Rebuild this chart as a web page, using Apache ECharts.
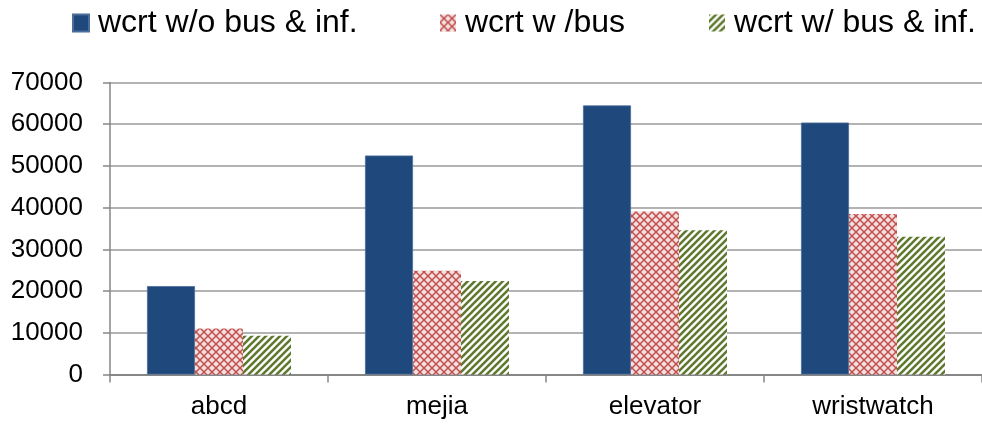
<!DOCTYPE html>
<html>
<head>
<meta charset="utf-8">
<style>
html,body{margin:0;padding:0;background:#fff;}
#chart{width:982px;height:430px;}
</style>
<script src="https://cdn.jsdelivr.net/npm/echarts@6/dist/echarts.min.js"></script>
</head>
<body>
<div id="chart"></div>
<script>
var categories = ['abcd', 'mejia', 'elevator', 'wristwatch'];
var seriesNames = ['wcrt w/o bus & inf.', 'wcrt w /bus', 'wcrt w/ bus & inf.'];
var woBusInf = [21200, 52500, 64500, 60400];
var wBus = [11000, 24900, 39100, 38500];
var wBusInf = [9300, 22400, 34600, 33000];
var yTicks = [0, 10000, 20000, 30000, 40000, 50000, 60000, 70000];

function crossPattern() {
  var s = 8;
  var c = document.createElement('canvas');
  c.width = s; c.height = s;
  var g = c.getContext('2d');
  g.fillStyle = '#ffffff';
  g.fillRect(0, 0, s, s);
  g.strokeStyle = '#c0504d';
  g.lineWidth = 1.5;
  g.beginPath();
  g.moveTo(-1, -1); g.lineTo(s + 1, s + 1);
  g.moveTo(-1, s + 1); g.lineTo(s + 1, -1);
  g.stroke();
  g.fillStyle = 'rgba(192,80,77,0.18)';
  g.fillRect(0, 0, s, s);
  return c;
}
function stripePattern() {
  var s = 7;
  var c = document.createElement('canvas');
  c.width = s; c.height = s;
  var g = c.getContext('2d');
  g.fillStyle = '#ffffff';
  g.fillRect(0, 0, s, s);
  g.strokeStyle = '#5f7a2f';
  g.lineWidth = 2.6;
  g.beginPath();
  g.moveTo(-1, s + 1); g.lineTo(s + 1, -1);
  g.moveTo(-1, 1); g.lineTo(1, -1);
  g.moveTo(s - 1, s + 1); g.lineTo(s + 1, s - 1);
  g.stroke();
  return c;
}

var chart = echarts.init(document.getElementById('chart'), null, {renderer: 'canvas'});
var fills = ['#1f497d', {image: crossPattern(), repeat: 'repeat'}, {image: stripePattern(), repeat: 'repeat'}];
var dataSets = [woBusInf, wBus, wBusInf];
var legendLefts = [72, 440, 709];
var fontFam = '"Liberation Sans", Arial, sans-serif';

var legends = seriesNames.map(function (n, i) {
  return {
    data: [n],
    left: legendLefts[i],
    top: 7,
    padding: 0,
    itemWidth: 16,
    itemHeight: 17,
    icon: 'rect',
    selectedMode: false,
    textStyle: {fontFamily: fontFam, fontSize: 32, color: '#000', padding: [0, 0, 0, 4]}
  };
});

chart.setOption({
  animation: false,
  backgroundColor: '#fff',
  legend: legends,
  grid: {left: 110, top: 82.5, width: 877, height: 292, containLabel: false},
  xAxis: {
    type: 'category',
    data: categories,
    boundaryGap: true,
    axisLine: {show: true, lineStyle: {color: '#868686', width: 2}},
    axisTick: {show: true, length: 8, inside: false, lineStyle: {color: '#868686', width: 1.5}},
    axisLabel: {fontFamily: fontFam, fontSize: 26, color: '#000', margin: 19},
    splitLine: {show: false}
  },
  yAxis: {
    type: 'value',
    min: yTicks[0],
    max: yTicks[yTicks.length - 1],
    interval: yTicks[1] - yTicks[0],
    axisLine: {show: true, lineStyle: {color: '#868686', width: 1.5}},
    axisTick: {show: true, length: 7, inside: false, lineStyle: {color: '#868686', width: 1.5}},
    axisLabel: {fontFamily: fontFam, fontSize: 26, color: '#000', margin: 27, formatter: function (v) { return String(v); }},
    splitLine: {show: true, lineStyle: {color: '#9a9a9a', width: 1.5}}
  },
  series: seriesNames.map(function (n, i) {
    return {
      name: n,
      type: 'bar',
      data: dataSets[i],
      barWidth: 48,
      barGap: '0%',
      itemStyle: {color: fills[i], borderColor: i === 0 ? '#4a6d99' : 'rgba(0,0,0,0)', borderWidth: i === 0 ? 0.8 : 0}
    };
  })
});
</script>
</body>
</html>
